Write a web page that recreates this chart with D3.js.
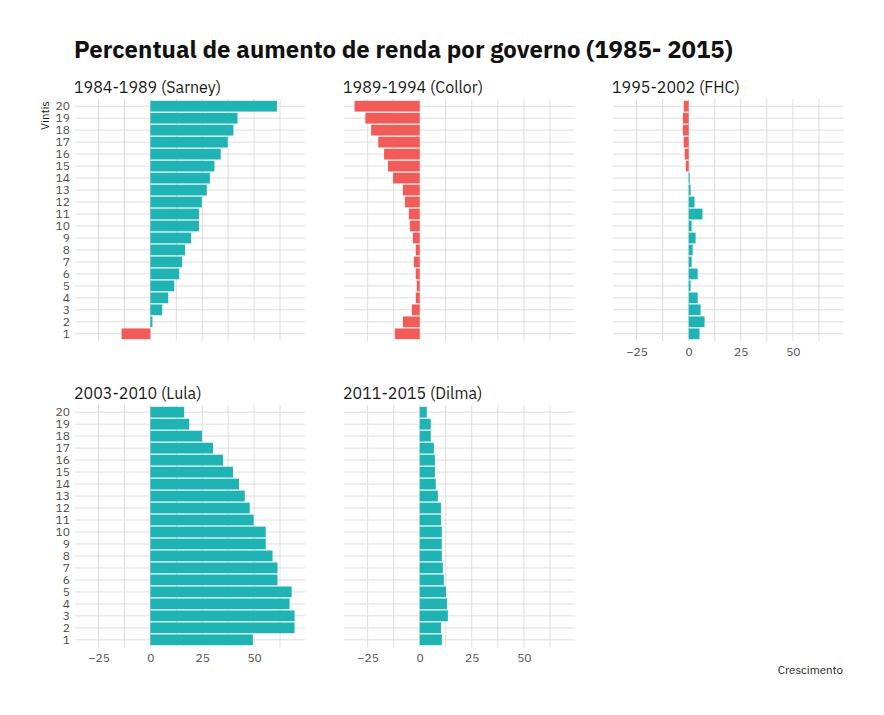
<!DOCTYPE html>
<html>
<head>
<meta charset="utf-8">
<script src="https://cdn.jsdelivr.net/npm/d3@7"></script>
<style>
  body { margin: 0; background: #fff; }
  text { font-family: "IBM Plex Sans", Roboto, "Noto Sans", sans-serif; }
</style>
</head>
<body>
<div id="chart"></div>
<script>
// vintis 1..20 (bottom to top)
var vintis = d3.range(1, 21);
var governos = ["1984-1989 (Sarney)", "1989-1994 (Collor)", "1995-2002 (FHC)", "2003-2010 (Lula)", "2011-2015 (Dilma)"];

// crescimento por vintil, index 0 = vintil 1
var sarney = [-13.9, 1.0, 5.7, 8.6, 11.5, 13.9, 15.3, 16.7, 19.6, 23.4, 23.4, 24.8, 27.2, 28.7, 30.9, 33.9, 37.3, 40.0, 42.0, 61.0];
var collor = [-11.9, -8.1, -3.8, -1.9, -1.4, -1.9, -2.8, -1.9, -3.3, -4.7, -5.2, -7.1, -8.1, -12.8, -15.2, -17.1, -19.9, -23.3, -26.1, -31.3];
var fhc = [5.2, 7.6, 5.7, 4.3, 0.9, 4.3, 1.4, 1.9, 3.3, 1.4, 6.6, 2.8, 0.9, 0.5, -1.4, -1.9, -2.4, -2.8, -2.8, -2.4];
var lula = [49.4, 69.5, 69.5, 67.1, 68.1, 61.3, 61.3, 58.9, 55.6, 55.6, 49.8, 47.9, 45.5, 42.7, 39.8, 35.0, 30.2, 24.9, 18.7, 16.3];
var dilma = [10.6, 10.2, 13.5, 13.1, 12.6, 11.6, 11.1, 10.6, 10.6, 10.6, 10.2, 10.2, 8.7, 7.7, 7.3, 7.3, 6.8, 5.3, 5.3, 3.4];
var xTicks = [-25, 0, 25, 50];

var series = [sarney, collor, fhc, lula, dilma];

var W = 884, H = 715;
var svg = d3.select("#chart").append("svg")
    .attr("width", W).attr("height", H);

// panel layout
var cols = [[75, 305], [344, 575], [613, 844]];
var rows = [[99, 341], [405, 647]];

var allVals = d3.merge(series);
var lo = d3.min(allVals), hi = d3.max(allVals), pad = (hi - lo) * 0.05;

var teal = "#1fb3b3", red = "#f15c58", grid = "#dedede", axisCol = "#4d4d4d";
var fam = "'IBM Plex Sans', Roboto, 'Noto Sans', sans-serif";

svg.append("text")
    .attr("x", 74).attr("y", 58)
    .attr("font-size", 24).attr("font-weight", 700)
    .attr("fill", "#111")
    .text("Percentual de aumento de renda por governo (1985- 2015)");

governos.forEach(function(g, i) {
  var c = i % 3, r = Math.floor(i / 3);
  var x = d3.scaleLinear().domain([lo - pad, hi + pad]).range(cols[c]);
  var y = d3.scaleBand().domain(vintis).range([rows[r][1], rows[r][0]])
      .paddingInner(0.1).paddingOuter(0.15);
  var panel = svg.append("g");
  var data = series[i];

  // strip title
  panel.append("text")
      .attr("x", cols[c][0] - 1).attr("y", rows[r][0] - 6)
      .attr("font-size", 16).attr("fill", "#1a1a1a")
      .text(g);

  // vertical grid (major + minor)
  var gx = d3.range(-37.5, hi + pad, 12.5).filter(function(v) { return v >= lo - pad; });
  panel.selectAll(".vg").data(gx).enter().append("line")
      .attr("x1", function(d) { return x(d); }).attr("x2", function(d) { return x(d); })
      .attr("y1", rows[r][0]).attr("y2", rows[r][1])
      .attr("stroke", grid).attr("stroke-width", 1);

  // horizontal grid
  panel.selectAll(".hg").data(vintis).enter().append("line")
      .attr("x1", cols[c][0]).attr("x2", cols[c][1])
      .attr("y1", function(d) { return y(d) + y.bandwidth() / 2; })
      .attr("y2", function(d) { return y(d) + y.bandwidth() / 2; })
      .attr("stroke", grid).attr("stroke-width", 1);

  // bars
  panel.selectAll(".bar").data(vintis).enter().append("rect")
      .attr("x", function(d) { return x(Math.min(0, data[d - 1])); })
      .attr("width", function(d) { return Math.abs(x(data[d - 1]) - x(0)); })
      .attr("y", function(d) { return y(d); })
      .attr("height", y.bandwidth())
      .attr("fill", function(d) { return data[d - 1] < 0 ? red : teal; });

  // y axis labels on left column
  if (c === 0) {
    var ya = panel.append("g")
        .attr("transform", "translate(" + (cols[c][0] - 2) + ",0)")
        .call(d3.axisLeft(y).tickSize(0).tickPadding(3));
    ya.select(".domain").remove();
    ya.selectAll("text").attr("font-size", 12).attr("fill", axisCol)
        .style("font-family", fam);
  }

  // x axis labels at bottom of each column
  if (r === 1 || i === 2) {
    var xa = panel.append("g")
        .attr("transform", "translate(0," + (rows[r][1] + 2) + ")")
        .call(d3.axisBottom(x).tickValues(xTicks).tickSize(0).tickPadding(4));
    xa.select(".domain").remove();
    xa.selectAll("text").attr("font-size", 12).attr("fill", axisCol)
        .style("font-family", fam);
  }
});

// axis titles
svg.append("text")
    .attr("transform", "translate(49,130) rotate(-90)")
    .attr("font-size", 11.5).attr("fill", "#1a1a1a")
    .text("Vintis");

svg.append("text")
    .attr("x", 843).attr("y", 674)
    .attr("text-anchor", "end")
    .attr("font-size", 11.5).attr("fill", "#1a1a1a")
    .text("Crescimento");
</script>
</body>
</html>
